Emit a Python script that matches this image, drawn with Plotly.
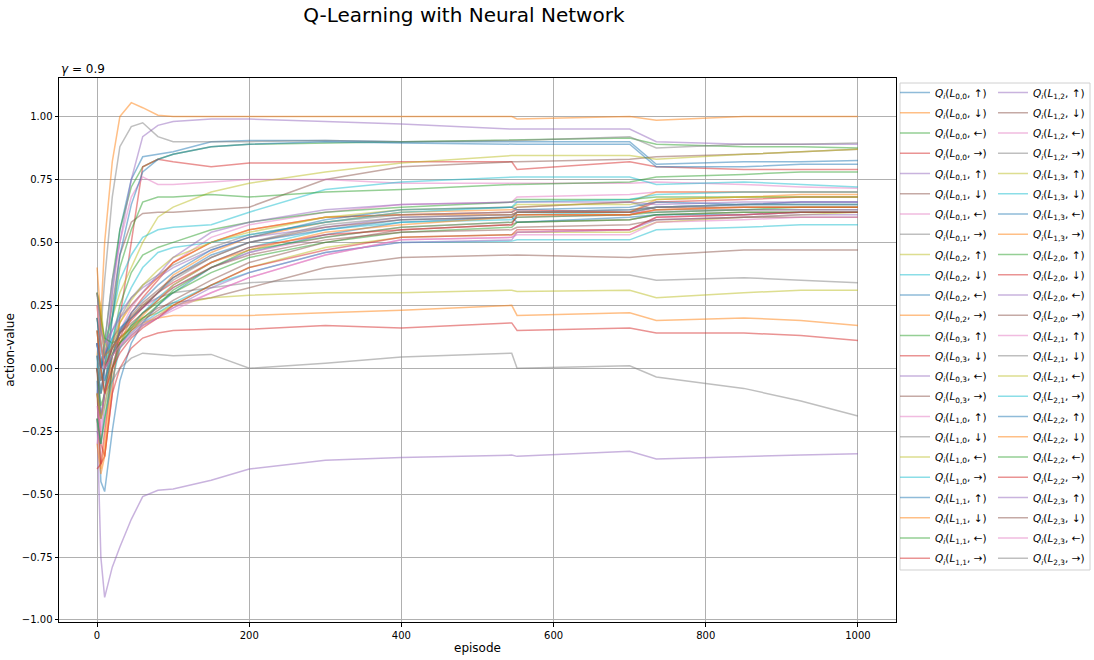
import plotly.graph_objects as go

episodes = [0, 5, 10, 20, 30, 45, 60, 80, 100, 150, 200, 300, 400, 545, 552, 700, 735, 850, 925, 1000]

states = ["0,0", "0,1", "0,2", "0,3", "1,0", "1,1", "1,2", "1,3", "2,0", "2,1", "2,2", "2,3"]
actions = ["↑", "↓", "←", "→"]

# action-values per state, in order up / down / left / right
q_L00 = [
    [0.0, -0.1, 0.0, 0.3, 0.55, 0.75, 0.84, 0.85, 0.86, 0.90, 0.905, 0.905, 0.90, 0.90, 0.90, 0.90, 0.81, 0.82, 0.82, 0.825],
    [0.05, 0.2, 0.5, 0.82, 1.0, 1.055, 1.035, 1.005, 1.0, 1.0, 1.0, 1.0, 1.0, 1.0, 0.99, 1.0, 0.985, 1.0, 1.0, 1.0],
    [0.1, 0.0, 0.1, 0.35, 0.55, 0.72, 0.80, 0.83, 0.85, 0.88, 0.89, 0.895, 0.90, 0.91, 0.91, 0.915, 0.89, 0.88, 0.88, 0.875],
    [0.0, -0.3, -0.35, -0.1, 0.2, 0.5, 0.80, 0.83, 0.82, 0.80, 0.815, 0.815, 0.82, 0.82, 0.79, 0.82, 0.80, 0.79, 0.79, 0.79],
]
q_L01 = [
    [-0.1, 0.0, 0.1, 0.35, 0.5, 0.75, 0.92, 0.965, 0.98, 0.99, 0.99, 0.98, 0.97, 0.95, 0.95, 0.95, 0.90, 0.89, 0.89, 0.89],
    [0.1, 0.0, 0.05, 0.25, 0.45, 0.58, 0.615, 0.62, 0.62, 0.63, 0.64, 0.75, 0.80, 0.82, 0.82, 0.83, 0.84, 0.85, 0.86, 0.87],
    [0.0, -0.1, 0.0, 0.3, 0.5, 0.68, 0.76, 0.73, 0.73, 0.74, 0.75, 0.75, 0.735, 0.735, 0.735, 0.735, 0.74, 0.73, 0.72, 0.715],
    [0.0, 0.15, 0.35, 0.68, 0.88, 0.96, 0.975, 0.92, 0.90, 0.90, 0.90, 0.905, 0.90, 0.905, 0.905, 0.92, 0.875, 0.89, 0.89, 0.895],
]
q_L02 = [
    [0.3, 0.2, 0.1, 0.2, 0.3, 0.4, 0.5, 0.6, 0.64, 0.70, 0.735, 0.78, 0.815, 0.845, 0.845, 0.845, 0.83, 0.85, 0.86, 0.87],
    [0.1, 0.0, 0.1, 0.2, 0.35, 0.45, 0.52, 0.55, 0.56, 0.57, 0.62, 0.71, 0.74, 0.76, 0.76, 0.76, 0.73, 0.74, 0.73, 0.72],
    [-0.05, -0.45, -0.49, -0.25, -0.05, 0.10, 0.18, 0.25, 0.30, 0.40, 0.46, 0.53, 0.58, 0.60, 0.62, 0.63, 0.64, 0.65, 0.65, 0.65],
    [-0.2, -0.4, -0.3, 0.0, 0.1, 0.15, 0.18, 0.20, 0.21, 0.21, 0.21, 0.22, 0.23, 0.25, 0.21, 0.22, 0.19, 0.20, 0.19, 0.17],
]
q_L03 = [
    [0.2, 0.1, 0.0, 0.2, 0.4, 0.55, 0.66, 0.68, 0.68, 0.69, 0.68, 0.70, 0.71, 0.73, 0.73, 0.74, 0.76, 0.77, 0.78, 0.78],
    [-0.1, -0.38, -0.35, -0.1, 0.0, 0.08, 0.12, 0.14, 0.15, 0.155, 0.155, 0.17, 0.16, 0.18, 0.15, 0.16, 0.14, 0.14, 0.13, 0.11],
    [-0.2, -0.75, -0.91, -0.79, -0.71, -0.60, -0.51, -0.485, -0.48, -0.445, -0.40, -0.365, -0.355, -0.345, -0.35, -0.33, -0.36, -0.35, -0.345, -0.34],
    [0.0, -0.2, -0.1, 0.05, 0.12, 0.17, 0.20, 0.24, 0.26, 0.28, 0.32, 0.40, 0.44, 0.45, 0.45, 0.44, 0.45, 0.47, 0.47, 0.47],
]
q_L10 = [
    [-0.15, -0.25, -0.1, 0.05, 0.15, 0.24, 0.30, 0.36, 0.42, 0.52, 0.57, 0.62, 0.65, 0.66, 0.68, 0.69, 0.70, 0.70, 0.70, 0.70],
    [0.1, 0.0, 0.05, 0.1, 0.15, 0.2, 0.25, 0.28, 0.3, 0.32, 0.34, 0.355, 0.37, 0.37, 0.37, 0.37, 0.35, 0.36, 0.35, 0.34],
    [0.3, 0.25, 0.1, 0.05, 0.1, 0.15, 0.2, 0.22, 0.25, 0.28, 0.29, 0.30, 0.30, 0.31, 0.305, 0.31, 0.28, 0.30, 0.31, 0.31],
    [0.1, -0.05, 0.0, 0.05, 0.1, 0.14, 0.18, 0.22, 0.26, 0.33, 0.38, 0.46, 0.50, 0.505, 0.51, 0.51, 0.55, 0.56, 0.57, 0.57],
]
q_L11 = [
    [0.05, -0.2, -0.1, 0.2, 0.45, 0.65, 0.78, 0.83, 0.85, 0.88, 0.89, 0.90, 0.895, 0.89, 0.89, 0.89, 0.80, 0.80, 0.81, 0.81],
    [-0.3, -0.42, -0.35, -0.05, 0.10, 0.20, 0.25, 0.30, 0.37, 0.46, 0.52, 0.58, 0.62, 0.63, 0.64, 0.66, 0.70, 0.70, 0.70, 0.70],
    [0.0, -0.15, -0.1, 0.1, 0.25, 0.38, 0.45, 0.48, 0.50, 0.55, 0.58, 0.62, 0.64, 0.66, 0.67, 0.67, 0.68, 0.68, 0.68, 0.68],
    [-0.4, -0.38, -0.25, 0.0, 0.12, 0.22, 0.28, 0.35, 0.42, 0.50, 0.55, 0.60, 0.61, 0.62, 0.63, 0.62, 0.66, 0.67, 0.68, 0.68],
]
q_L12 = [
    [0.1, 0.0, 0.05, 0.15, 0.22, 0.28, 0.32, 0.36, 0.40, 0.47, 0.52, 0.56, 0.60, 0.61, 0.62, 0.62, 0.62, 0.63, 0.63, 0.63],
    [0.2, 0.1, 0.0, 0.05, 0.1, 0.15, 0.19, 0.23, 0.27, 0.35, 0.42, 0.50, 0.55, 0.57, 0.58, 0.59, 0.61, 0.62, 0.62, 0.62],
    [0.1, 0.0, 0.0, 0.08, 0.14, 0.20, 0.24, 0.28, 0.32, 0.40, 0.46, 0.52, 0.56, 0.58, 0.60, 0.61, 0.64, 0.65, 0.66, 0.66],
    [0.15, 0.0, -0.1, -0.05, 0.0, 0.04, 0.06, 0.055, 0.05, 0.055, 0.0, 0.02, 0.045, 0.06, 0.0, 0.01, -0.035, -0.08, -0.13, -0.19],
]
q_L13 = [
    [0.15, 0.0, -0.1, 0.0, 0.08, 0.13, 0.17, 0.21, 0.25, 0.33, 0.40, 0.48, 0.52, 0.53, 0.54, 0.54, 0.58, 0.60, 0.61, 0.62],
    [-0.2, -0.3, -0.2, -0.05, 0.08, 0.16, 0.22, 0.28, 0.33, 0.42, 0.48, 0.55, 0.58, 0.59, 0.61, 0.62, 0.64, 0.65, 0.65, 0.65],
    [0.1, 0.0, 0.05, 0.12, 0.16, 0.20, 0.24, 0.30, 0.36, 0.45, 0.50, 0.55, 0.59, 0.60, 0.58, 0.60, 0.61, 0.61, 0.62, 0.62],
    [0.25, 0.1, 0.0, 0.1, 0.18, 0.25, 0.30, 0.36, 0.42, 0.50, 0.55, 0.60, 0.61, 0.61, 0.62, 0.62, 0.67, 0.68, 0.69, 0.69],
]
q_L20 = [
    [0.3, 0.2, 0.12, 0.1, 0.12, 0.16, 0.20, 0.25, 0.31, 0.40, 0.47, 0.52, 0.56, 0.58, 0.60, 0.61, 0.62, 0.63, 0.64, 0.64],
    [0.0, -0.1, 0.0, 0.08, 0.14, 0.19, 0.24, 0.30, 0.34, 0.42, 0.48, 0.53, 0.55, 0.57, 0.61, 0.61, 0.63, 0.64, 0.64, 0.64],
    [-0.25, -0.3, -0.15, 0.0, 0.08, 0.13, 0.17, 0.20, 0.24, 0.32, 0.38, 0.46, 0.50, 0.51, 0.54, 0.55, 0.59, 0.60, 0.61, 0.61],
    [-0.1, -0.2, -0.1, 0.05, 0.14, 0.21, 0.26, 0.31, 0.36, 0.44, 0.50, 0.56, 0.59, 0.60, 0.62, 0.62, 0.64, 0.64, 0.64, 0.64],
]
q_L21 = [
    [-0.3, -0.2, -0.1, 0.02, 0.09, 0.14, 0.18, 0.21, 0.24, 0.30, 0.36, 0.45, 0.51, 0.52, 0.54, 0.55, 0.60, 0.61, 0.62, 0.62],
    [0.0, -0.1, -0.05, 0.1, 0.2, 0.28, 0.33, 0.37, 0.41, 0.48, 0.53, 0.58, 0.61, 0.62, 0.64, 0.66, 0.63, 0.63, 0.63, 0.63],
    [-0.1, -0.2, -0.15, 0.05, 0.18, 0.27, 0.33, 0.39, 0.44, 0.50, 0.54, 0.60, 0.63, 0.64, 0.65, 0.65, 0.67, 0.68, 0.68, 0.68],
    [0.05, -0.1, 0.0, 0.12, 0.22, 0.32, 0.40, 0.46, 0.48, 0.50, 0.53, 0.58, 0.62, 0.64, 0.66, 0.67, 0.69, 0.70, 0.70, 0.70],
]
q_L22 = [
    [0.2, 0.05, -0.05, 0.05, 0.15, 0.22, 0.27, 0.33, 0.38, 0.47, 0.52, 0.59, 0.63, 0.64, 0.63, 0.64, 0.66, 0.65, 0.66, 0.66],
    [0.4, 0.2, 0.05, 0.08, 0.12, 0.16, 0.21, 0.27, 0.33, 0.42, 0.47, 0.54, 0.57, 0.60, 0.61, 0.61, 0.63, 0.64, 0.64, 0.64],
    [-0.2, -0.3, -0.2, 0.0, 0.1, 0.17, 0.22, 0.26, 0.30, 0.38, 0.44, 0.50, 0.54, 0.56, 0.58, 0.59, 0.61, 0.62, 0.62, 0.62],
    [0.15, 0.0, -0.1, 0.0, 0.06, 0.12, 0.16, 0.20, 0.25, 0.33, 0.40, 0.47, 0.52, 0.53, 0.55, 0.55, 0.60, 0.61, 0.62, 0.62],
]
q_L23 = [
    [0.3, 0.15, 0.1, 0.15, 0.2, 0.25, 0.30, 0.37, 0.44, 0.54, 0.58, 0.63, 0.65, 0.66, 0.66, 0.66, 0.65, 0.66, 0.66, 0.66],
    [0.05, -0.05, 0.0, 0.08, 0.14, 0.18, 0.22, 0.27, 0.32, 0.40, 0.45, 0.51, 0.54, 0.55, 0.56, 0.57, 0.59, 0.60, 0.60, 0.60],
    [0.25, 0.1, 0.0, 0.05, 0.09, 0.13, 0.17, 0.20, 0.23, 0.30, 0.36, 0.45, 0.51, 0.52, 0.53, 0.53, 0.58, 0.59, 0.60, 0.60],
    [0.3, 0.15, 0.05, 0.08, 0.14, 0.2, 0.25, 0.30, 0.35, 0.44, 0.50, 0.57, 0.60, 0.61, 0.62, 0.63, 0.64, 0.65, 0.65, 0.65],
]

all_q = [q_L00, q_L01, q_L02, q_L03, q_L10, q_L11, q_L12, q_L13, q_L20, q_L21, q_L22, q_L23]

# matplotlib tab10 at alpha 0.5
tab10 = ["31,119,180", "255,127,14", "44,160,44", "214,39,40", "148,103,189",
         "140,86,75", "227,119,194", "127,127,127", "188,189,34", "23,190,207"]

fig = go.Figure()
n = 0
for s, qs in zip(states, all_q):
    for a, vals in zip(actions, qs):
        name = "<i>Q<sub>i</sub></i>(<i>L</i><sub>%s</sub>, %s)" % (s, a)
        fig.add_trace(go.Scatter(
            x=episodes, y=vals, mode="lines", name=name,
            line=dict(color="rgba(%s,0.5)" % tab10[n % 10], width=1.5),
            legend="legend" if n < 24 else "legend2",
            legendgroup=name,
        ))
        n += 1

leg_style = dict(
    xref="container", yref="container", xanchor="left", yanchor="top",
    bgcolor="rgba(0,0,0,0)", borderwidth=0, tracegroupgap=1.25, maxheight=620,
    font=dict(family="DejaVu Sans", size=10.5, color="black"),
)

fig.update_layout(
    width=1094, height=660,
    paper_bgcolor="white", plot_bgcolor="white",
    margin=dict(l=59, r=198, t=78, b=38, autoexpand=False),
    font=dict(family="DejaVu Sans", size=10, color="black"),
    title=dict(text="Q-Learning with Neural Network", x=0.424, xanchor="center",
               y=0.977, yanchor="middle", font=dict(size=20)),
    showlegend=True,
    legend=dict(x=895 / 1094, y=1 - 78 / 660, **leg_style),
    legend2=dict(x=993 / 1094, y=1 - 78 / 660, **leg_style),
    xaxis=dict(range=[-50, 1050], tickvals=[0, 200, 400, 600, 800, 1000],
               showgrid=True, gridcolor="#b0b0b0", gridwidth=0.8, zeroline=False,
               showline=True, linecolor="black", linewidth=1, mirror=True,
               ticks="outside", ticklen=3.5, tickcolor="black",
               title=dict(text="episode", standoff=4)),
    yaxis=dict(range=[-1.008, 1.153], tickvals=[-1, -0.75, -0.5, -0.25, 0, 0.25, 0.5, 0.75, 1],
               tickformat=".2f",
               showgrid=True, gridcolor="#b0b0b0", gridwidth=0.8, zeroline=False,
               showline=True, linecolor="black", linewidth=1, mirror=True,
               ticks="outside", ticklen=3.5, tickcolor="black",
               title=dict(text="action-value", standoff=4)),
    annotations=[dict(text="<i>γ</i> = 0.9", xref="paper", yref="paper", x=0, y=1,
                      xanchor="left", yanchor="bottom", showarrow=False,
                      font=dict(size=12))],
    shapes=[dict(type="rect", xref="paper", yref="paper",
                 x0=1.0048, x1=1.2318, y0=0.0956, y1=0.9908,
                 line=dict(color="#d0d0d0", width=1))],
)

# drop the default page margin so the figure sits at the window's top-left corner
fig.write_html("out.html", config={"displayModeBar": False},
               post_script="document.body.style.margin='0';")
